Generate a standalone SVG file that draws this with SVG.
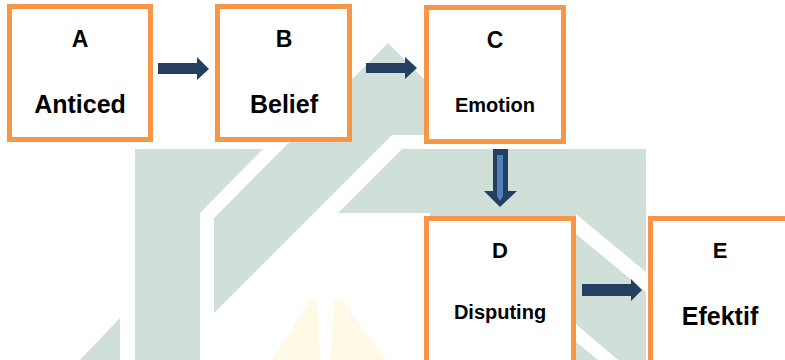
<svg xmlns="http://www.w3.org/2000/svg" width="785" height="360" viewBox="0 0 785 360">
<style>
.wm{fill:#d0dfd7}
.wy{fill:#fefae6}
.box{fill:#ffffff;stroke:#f79646;stroke-width:5}
.t{font-family:"Liberation Sans",Arial,sans-serif;font-weight:bold;fill:#000;text-anchor:middle}
.arr{fill:#243f60}
</style>
<rect width="785" height="360" fill="#ffffff"/>
<g id="watermark">
<polygon class="wm" points="135,149 263,149 200,213 200,360 135,360"/>
<polygon class="wm" points="80,360 120,318 120,360"/>
<polygon class="wm" points="214,218 388,43 430,85 430,135 392,135 214,313"/>
<polygon class="wm" points="402,149 646,149 646,360 430,360 430,213 338,213"/>
<polygon fill="#ffffff" points="576,214 646,272 646,292 576,234"/>
<polygon fill="#ffffff" points="576,324 618,360 598,360 576,342"/>
<polygon class="wy" points="272,360 310,300 318,300 320,360"/>
<polygon class="wy" points="330,360 334,300 342,300 386,360"/>
</g>
<g id="connectors">
<polygon class="arr" points="158,63 197,63 197,57 209,69 197,80 197,74 158,74"/>
<polygon class="arr" points="366,63 405,63 405,57 417,68 405,79 405,73 366,73"/>
<polygon class="arr" points="493,149 508,149 508,191 517,191 500,207 484,191 493,191"/>
<polygon fill="#4f81bd" points="497,155 503,155 503,196 500,201 497,196"/>
<polygon class="arr" points="582,284 631,284 631,279 642,290 631,301 631,296 582,296"/>
</g>
<g id="node-A">
<rect class="box" x="9.5" y="6.5" width="141" height="133"/>
<text class="t" x="80" y="47" font-size="23">A</text>
<text class="t" x="80" y="113" font-size="25">Anticed</text>
</g>
<g id="node-B">
<rect class="box" x="217.5" y="6.5" width="132" height="133"/>
<text class="t" x="284" y="47" font-size="23">B</text>
<text class="t" x="284" y="113" font-size="25">Belief</text>
</g>
<g id="node-C">
<rect class="box" x="426.5" y="7.5" width="137" height="134"/>
<text class="t" x="495" y="48" font-size="23">C</text>
<text class="t" x="495" y="112" font-size="20">Emotion</text>
</g>
<g id="node-D">
<rect class="box" x="426.5" y="218.5" width="147" height="150"/>
<text class="t" x="500" y="258" font-size="22">D</text>
<text class="t" x="500" y="319" font-size="20">Disputing</text>
</g>
<g id="node-E">
<rect class="box" x="650.5" y="218.5" width="150" height="150"/>
<text class="t" x="720" y="258" font-size="22">E</text>
<text class="t" x="720" y="325" font-size="25">Efektif</text>
</g>
</svg>
